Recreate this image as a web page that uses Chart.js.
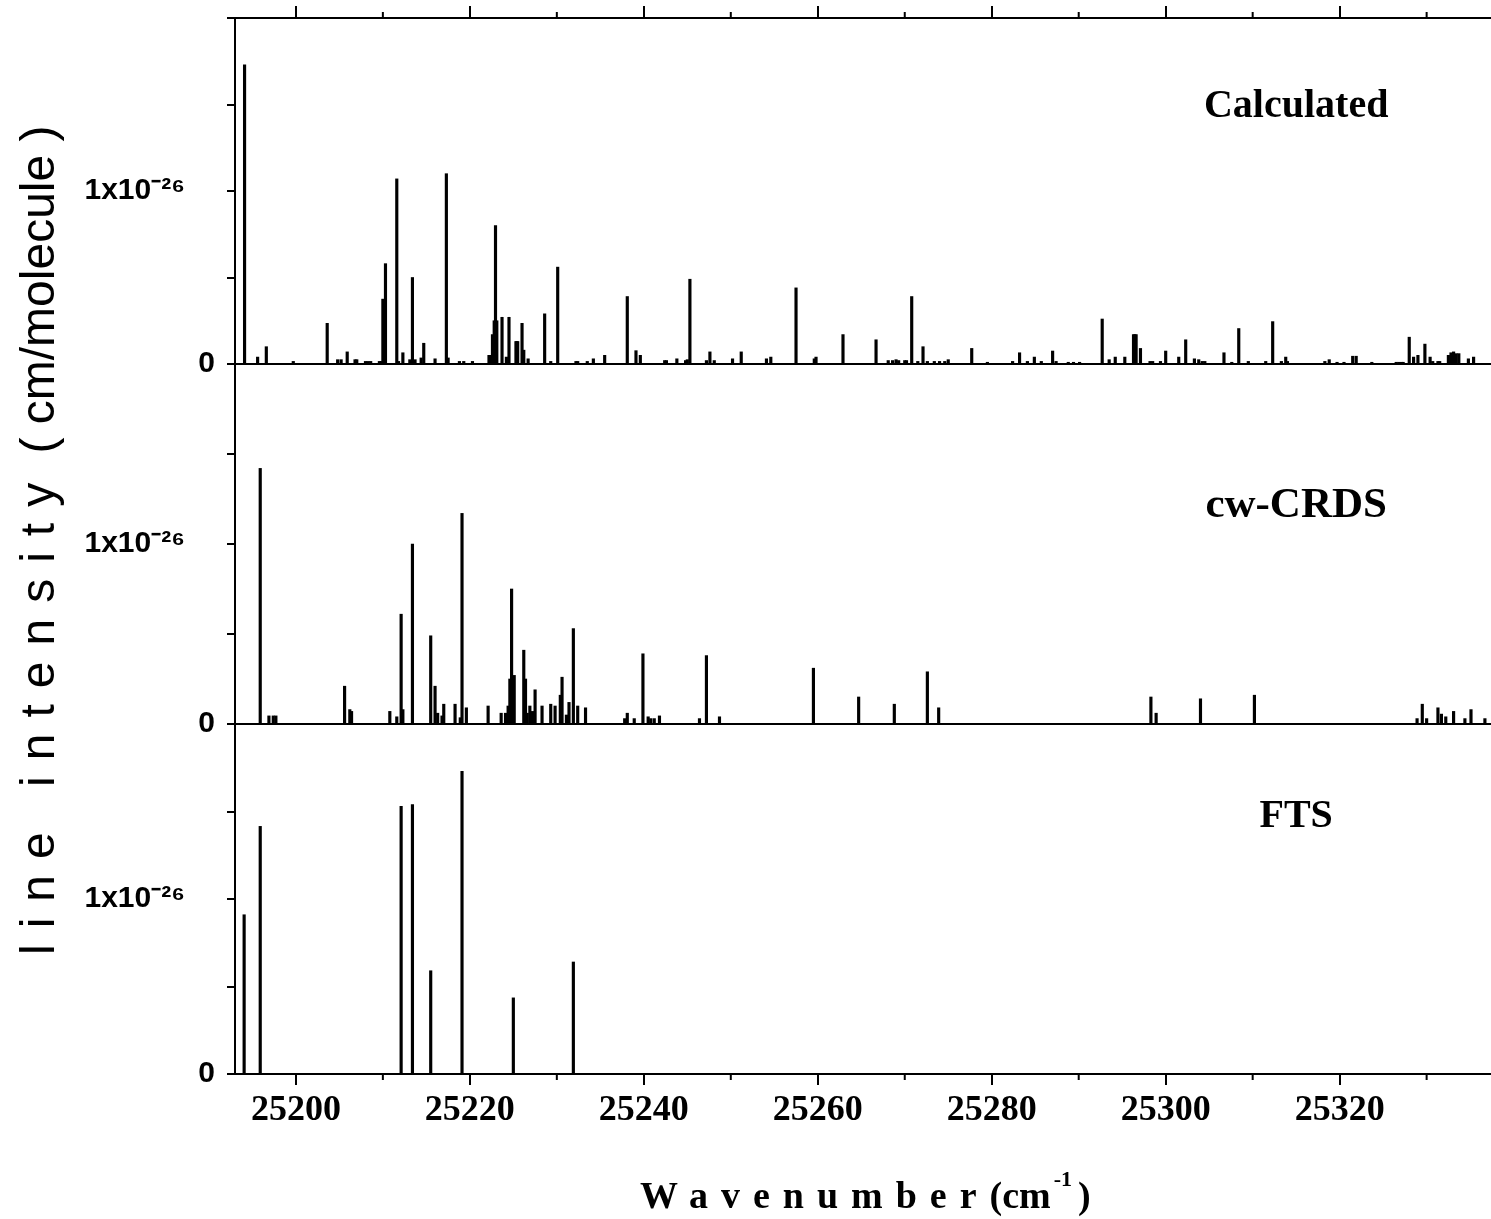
<!DOCTYPE html>
<html>
<head>
<meta charset="utf-8">
<title>Line intensities</title>
<script src="https://cdn.jsdelivr.net/npm/chart.js@4.4.1/dist/chart.umd.min.js"></script>
<style>
    html, body { margin: 0; padding: 0; background: #fff; }
    #wrap { width: 1491px; height: 1219px; }
</style>
</head>
<body>
<div id="wrap"><canvas id="linesChart" width="1491" height="1219"></canvas></div>
<script>
// Wavenumber range (cm-1) and tick labels
const xMin = 25193;
const xMax = 25337.4;
const xTickLabels = [25200, 25220, 25240, 25260, 25280, 25300, 25320];
const xMinorTicks = [25210, 25230, 25250, 25270, 25290, 25310, 25330];

// intensities in units of 1x10^-26 cm/molecule
const yTickLabels = { 0: '0', 1: '1x10\u207B\u00B2\u2076\u2002\u2002' };

// Calculated line list
const calcWavenumbers = [
    25194.1, 25195.6, 25196.6, 25199.7, 25203.6, 25204.8, 25205.2, 25205.9, 25206.8, 25207.0,
    25208.0, 25208.3, 25208.6, 25209.6, 25209.8, 25210.0, 25210.3, 25211.6, 25211.8, 25212.3,
    25213.1, 25213.4, 25213.7, 25214.4, 25214.7, 25216.0, 25217.3, 25217.5, 25218.8, 25219.3,
    25220.3, 25222.2, 25222.4, 25222.6, 25222.8, 25222.95, 25223.1, 25223.7, 25224.2, 25224.5,
    25225.3, 25225.4, 25225.5, 25226.0, 25226.2, 25226.7, 25228.6, 25229.3, 25230.1, 25232.2,
    25232.4, 25233.5, 25234.2, 25235.5, 25238.1, 25239.1, 25239.6, 25242.4, 25242.6, 25243.8,
    25244.8, 25245.0, 25245.3, 25247.2, 25247.6, 25248.1, 25250.2, 25251.2, 25254.1, 25254.6,
    25257.5, 25259.6, 25259.8, 25262.9, 25266.7, 25268.1, 25268.6, 25269.0, 25269.3, 25270.0,
    25270.2, 25270.8, 25271.5, 25272.1, 25272.6, 25273.4, 25274.0, 25274.6, 25275.0, 25277.7,
    25279.5, 25282.4, 25283.2, 25284.1, 25284.9, 25285.7, 25287.0, 25287.4, 25288.8, 25289.4,
    25290.1, 25292.7, 25293.5, 25294.2, 25295.3, 25296.3, 25296.45, 25296.6, 25297.1, 25298.2,
    25298.5, 25299.4, 25300.0, 25301.5, 25302.3, 25303.3, 25303.8, 25304.2, 25304.5, 25306.7,
    25307.6, 25308.4, 25309.5, 25311.5, 25312.3, 25313.3, 25313.8, 25314.0, 25318.3, 25318.8,
    25319.7, 25320.5, 25321.5, 25321.9, 25323.7, 25326.5, 25326.8, 25327.1, 25327.3, 25328.0,
    25328.5, 25329.0, 25329.8, 25330.4, 25330.7, 25331.3, 25331.5, 25332.5, 25332.8, 25333.1,
    25333.4, 25333.7, 25334.8, 25335.4
];
const calcIntensities = [
    1.73, 0.04, 0.10, 0.015, 0.235, 0.025, 0.025, 0.07, 0.025, 0.025,
    0.015, 0.015, 0.015, 0.015, 0.015, 0.375, 0.58, 1.07, 0.015, 0.065,
    0.025, 0.50, 0.025, 0.035, 0.12, 0.03, 1.10, 0.035, 0.015, 0.015,
    0.015, 0.05, 0.05, 0.17, 0.25, 0.80, 0.25, 0.27, 0.04, 0.27,
    0.13, 0.13, 0.13, 0.235, 0.08, 0.03, 0.29, 0.015, 0.56, 0.015,
    0.015, 0.015, 0.03, 0.05, 0.39, 0.077, 0.05, 0.02, 0.02, 0.03,
    0.02, 0.025, 0.49, 0.02, 0.07, 0.02, 0.03, 0.07, 0.03, 0.04,
    0.44, 0.03, 0.04, 0.17, 0.14, 0.02, 0.02, 0.025, 0.02, 0.02,
    0.02, 0.39, 0.015, 0.10, 0.015, 0.015, 0.015, 0.015, 0.025, 0.09,
    0.01, 0.015, 0.065, 0.015, 0.04, 0.015, 0.075, 0.015, 0.01, 0.01,
    0.01, 0.26, 0.025, 0.04, 0.04, 0.17, 0.17, 0.17, 0.09, 0.015,
    0.015, 0.015, 0.075, 0.04, 0.14, 0.03, 0.025, 0.015, 0.015, 0.065,
    0.01, 0.205, 0.015, 0.015, 0.245, 0.015, 0.04, 0.015, 0.015, 0.025,
    0.01, 0.01, 0.045, 0.045, 0.01, 0.01, 0.01, 0.01, 0.01, 0.155,
    0.04, 0.05, 0.115, 0.04, 0.015, 0.015, 0.015, 0.05, 0.065, 0.07,
    0.06, 0.06, 0.03, 0.04
];

// cw-CRDS measured lines
const crdsWavenumbers = [
    25195.9, 25196.9, 25197.4, 25197.7, 25205.6, 25206.2, 25206.4, 25210.8, 25211.6, 25212.1,
    25212.3, 25213.4, 25215.5, 25216.0, 25216.3, 25216.8, 25217.0, 25218.3, 25218.9, 25219.1,
    25219.6, 25222.1, 25223.6, 25224.1, 25224.4, 25224.6, 25224.8, 25225.1, 25226.2, 25226.4,
    25226.6, 25226.9, 25227.2, 25227.5, 25228.3, 25229.3, 25229.8, 25230.4, 25230.6, 25231.1,
    25231.4, 25231.9, 25232.4, 25233.3, 25237.8, 25238.1, 25238.9, 25239.9, 25240.5, 25240.8,
    25241.2, 25241.8, 25246.4, 25247.2, 25248.7, 25259.5, 25264.7, 25268.8, 25272.6, 25273.9,
    25298.3, 25298.9, 25304.0, 25310.2, 25328.9, 25329.5, 25330.0, 25331.3, 25331.7, 25332.2,
    25333.1, 25334.4, 25335.1, 25336.7
];
const crdsIntensities = [
    1.42, 0.045, 0.045, 0.045, 0.21, 0.08, 0.07, 0.07, 0.04, 0.61,
    0.08, 1.00, 0.49, 0.21, 0.06, 0.045, 0.11, 0.11, 0.035, 1.17,
    0.09, 0.10, 0.06, 0.06, 0.10, 0.25, 0.75, 0.27, 0.41, 0.25,
    0.06, 0.10, 0.07, 0.19, 0.10, 0.11, 0.10, 0.16, 0.26, 0.05,
    0.12, 0.53, 0.10, 0.09, 0.03, 0.06, 0.03, 0.39, 0.04, 0.03,
    0.03, 0.045, 0.03, 0.38, 0.04, 0.31, 0.15, 0.11, 0.29, 0.09,
    0.15, 0.06, 0.14, 0.16, 0.03, 0.11, 0.03, 0.09, 0.055, 0.04,
    0.07, 0.03, 0.08, 0.03
];

// FTS measured lines
const ftsWavenumbers = [25194.05, 25195.9, 25212.1, 25213.4, 25215.5, 25219.1, 25225.0, 25231.9];
const ftsIntensities = [0.91, 1.415, 1.53, 1.54, 0.59, 1.73, 0.435, 0.64];

const panelNames = ['Calculated', 'cw-CRDS', 'FTS'];

/**
 * Pair wavenumbers with intensities for the bar controller
 */
function toPoints(xs, ys) {
    return xs.map((x, i) => ({ x: x, y: ys[i] }));
}

/**
 * Y axis for one of the three stacked panels
 */
function panelAxis(weight) {
    return {
        type: 'linear',
        position: 'left',
        stack: 'panels',
        stackWeight: weight,
        min: 0,
        max: 2,
        border: { display: true, color: '#000', width: 2 },
        grid: {
            drawOnChartArea: true,
            color: (ctx) => (ctx.tick && ctx.tick.value === 0 ? '#000' : 'rgba(0,0,0,0)'),
            tickColor: '#000',
            tickLength: 8,
            lineWidth: 2
        },
        ticks: {
            stepSize: 0.5,
            autoSkip: false,
            padding: 12,
            color: '#000',
            font: { family: 'Liberation Sans', size: 30, weight: 'bold' },
            callback: (v) => (yTickLabels[v] !== undefined ? yTickLabels[v] : '')
        },
        afterFit: (scale) => {
            scale.width = 235;
            // labels must not push the plot area down
            scale.paddingTop = 0;
            scale.paddingBottom = 0;
        }
    };
}

/**
 * Draws minor ticks, panel names and the two axis titles
 */
const decorations = {
    id: 'decorations',
    afterDraw(chart) {
        const ctx = chart.ctx;
        const xs = chart.scales.x;
        const area = chart.chartArea;

        ctx.save();
        ctx.strokeStyle = '#000';
        ctx.lineWidth = 2;
        xMinorTicks.forEach(v => {
            const px = xs.getPixelForValue(v);
            ctx.beginPath();
            ctx.moveTo(px, area.bottom);
            ctx.lineTo(px, area.bottom + 6);
            ctx.moveTo(px, area.top);
            ctx.lineTo(px, area.top - 6);
            ctx.stroke();
        });

        // panel names
        ctx.fillStyle = '#000';
        ctx.textAlign = 'center';
        ctx.textBaseline = 'middle';
        const labelX = xs.getPixelForValue(25315);
        ctx.font = 'bold 40px "Liberation Serif"';
        ctx.fillText(panelNames[0], labelX, chart.scales.yCalc.getPixelForValue(1.49));
        ctx.font = 'bold 43px "Liberation Serif"';
        ctx.fillText(panelNames[1], labelX, chart.scales.yCrds.getPixelForValue(1.21));
        ctx.font = 'bold 40px "Liberation Serif"';
        ctx.fillText(panelNames[2], labelX, chart.scales.yFts.getPixelForValue(1.47));

        // y title, rotated
        ctx.translate(41, 955);
        ctx.rotate(-Math.PI / 2);
        ctx.textAlign = 'left';
        ctx.font = '48px "Liberation Sans"';
        ctx.letterSpacing = '16px';
        ctx.fillText('line intensity', 0, 0);
        let w = ctx.measureText('line intensity').width;
        ctx.letterSpacing = '0px';
        ctx.fillText(' ( cm/molecule )', w, 0);
        ctx.restore();

        // x title
        ctx.save();
        ctx.fillStyle = '#000';
        ctx.textAlign = 'left';
        ctx.textBaseline = 'alphabetic';
        ctx.font = 'bold 38px "Liberation Serif"';
        ctx.letterSpacing = '13px';
        let x = 640;
        ctx.fillText('Wavenumber', x, 1208);
        x += ctx.measureText('Wavenumber').width;
        ctx.letterSpacing = '0px';
        ctx.fillText('(cm', x, 1208);
        x += ctx.measureText('(cm').width + 3;
        ctx.font = 'bold 22px "Liberation Serif"';
        ctx.fillText('-1', x, 1186);
        x += ctx.measureText('-1').width + 6;
        ctx.font = 'bold 38px "Liberation Serif"';
        ctx.fillText(')', x, 1208);
        ctx.restore();
    }
};

const lineStyle = {
    backgroundColor: '#000',
    borderWidth: 0,
    barThickness: 2.5
};

new Chart(document.getElementById('linesChart'), {
    type: 'bar',
    data: {
        datasets: [
            { label: 'FTS', data: toPoints(ftsWavenumbers, ftsIntensities), yAxisID: 'yFts', ...lineStyle },
            { label: 'cw-CRDS', data: toPoints(crdsWavenumbers, crdsIntensities), yAxisID: 'yCrds', ...lineStyle },
            { label: 'Calculated', data: toPoints(calcWavenumbers, calcIntensities), yAxisID: 'yCalc', ...lineStyle }
        ]
    },
    options: {
        responsive: false,
        animation: false,
        grouped: false,
        layout: { padding: { top: 6, left: 0, right: 0, bottom: 0 } },
        plugins: { legend: { display: false }, tooltip: { enabled: false } },
        scales: {
            x: {
                type: 'linear',
                position: 'bottom',
                min: xMin,
                max: xMax,
                offset: false,
                border: { display: true, color: '#000', width: 2 },
                grid: { offset: false, drawOnChartArea: false, tickLength: 11, tickColor: '#000', lineWidth: 2 },
                ticks: {
                    stepSize: 20,
                    includeBounds: false,
                    autoSkip: false,
                    maxRotation: 0,
                    padding: 4,
                    color: '#000',
                    font: { family: 'Liberation Serif', size: 36, weight: 'bold' },
                    callback: (v) => (xTickLabels.includes(v) ? String(v) : '')
                },
                afterFit: (scale) => { scale.height = 145; }
            },
            xTop: {
                type: 'linear',
                position: 'top',
                min: xMin,
                max: xMax,
                offset: false,
                border: { display: true, color: '#000', width: 2 },
                grid: { offset: false, drawOnChartArea: false, tickLength: 12, tickColor: '#000', lineWidth: 2 },
                ticks: { display: false, stepSize: 20, includeBounds: false },
                afterFit: (scale) => { scale.height = 12; }
            },
            yFts: panelAxis(350),
            yCrds: panelAxis(360),
            yCalc: panelAxis(346)
        }
    },
    plugins: [decorations]
});
</script>
</body>
</html>
